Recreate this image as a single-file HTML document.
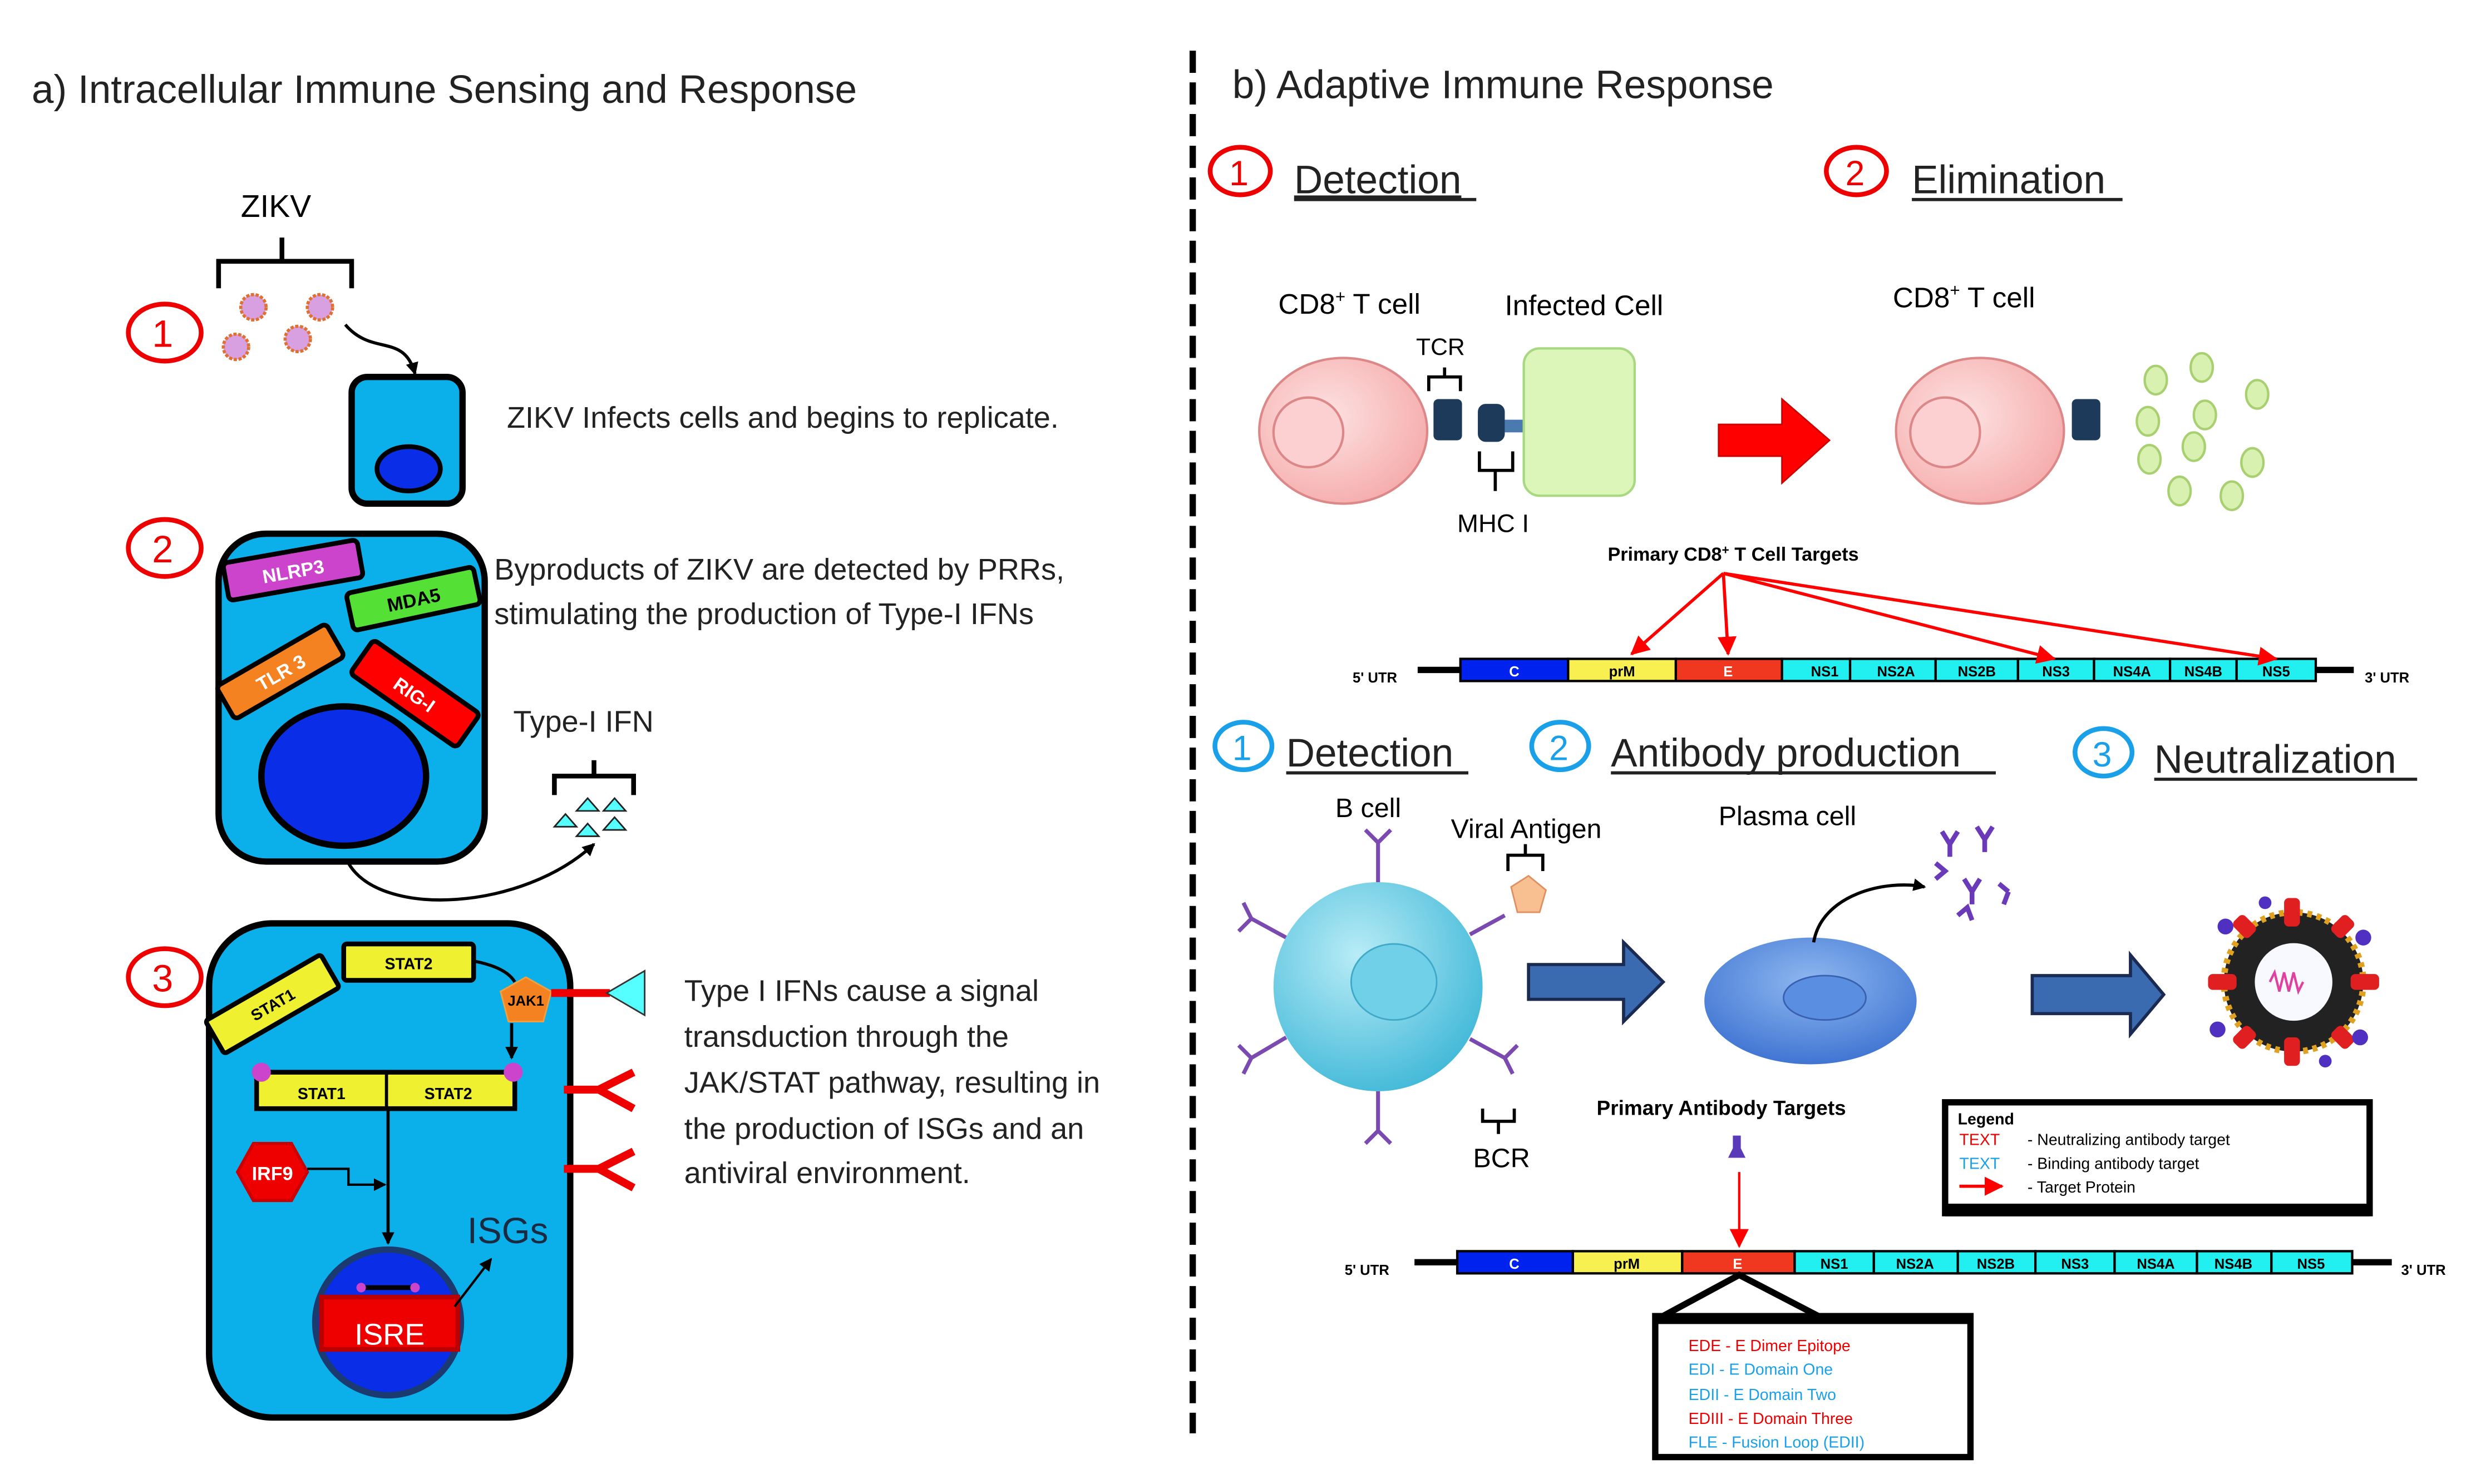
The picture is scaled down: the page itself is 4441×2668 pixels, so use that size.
<!DOCTYPE html>
<html><head><meta charset="utf-8"><style>
html,body{margin:0;padding:0;background:#fff;}
svg{display:block;}
text{font-family:"Liberation Sans",sans-serif;}
</style></head><body>
<svg width="4441" height="2668" viewBox="0 0 1560 937" preserveAspectRatio="none" xmlns="http://www.w3.org/2000/svg">
<defs>
<marker id="ab" markerWidth="8" markerHeight="8" refX="7" refY="4" orient="auto" markerUnits="userSpaceOnUse"><path d="M0,0 L8,4 L0,8 z" fill="#000"/></marker>
<marker id="ar" markerWidth="12" markerHeight="12" refX="11" refY="6" orient="auto" markerUnits="userSpaceOnUse"><path d="M0,0 L12,6 L0,12 z" fill="#f00"/></marker>
<radialGradient id="pink" cx="0.4" cy="0.4" r="0.7"><stop offset="0" stop-color="#fde2e2"/><stop offset="1" stop-color="#f5a8a8"/></radialGradient>
<radialGradient id="bc" cx="0.4" cy="0.35" r="0.7"><stop offset="0" stop-color="#b8ecf6"/><stop offset="1" stop-color="#40b8d8"/></radialGradient>
<radialGradient id="pc" cx="0.5" cy="0.35" r="0.7"><stop offset="0" stop-color="#8fb8f0"/><stop offset="1" stop-color="#3a70d0"/></radialGradient>
</defs>

<!-- Left panel -->
<text x="20" y="65" font-size="25" fill="#222">a) Intracellular Immune Sensing and Response</text>
<line x1="753" y1="32" x2="753" y2="905" stroke="#000" stroke-width="4" stroke-dasharray="14,6"/>

<text x="152" y="137" font-size="20">ZIKV</text>
<path d="M138,182 V165 H178 V150 M178,165 H222 V182" fill="none" stroke="#000" stroke-width="3"/>
<ellipse cx="104" cy="210" rx="23" ry="18" fill="none" stroke="#e00" stroke-width="3"/>
<text x="96" y="219" font-size="24" fill="#e00">1</text>
<g fill="#d8a0e0" stroke="#e07030" stroke-width="2" stroke-dasharray="2,1">
<circle cx="160" cy="194" r="8"/><circle cx="202" cy="194" r="8"/><circle cx="149" cy="219" r="8"/><circle cx="188" cy="214" r="8"/></g>
<path d="M218,205 C235,225 255,210 262,236" fill="none" stroke="#000" stroke-width="2" marker-end="url(#ab)"/>
<rect x="222" y="238" width="70" height="80" rx="10" fill="#0bb0ea" stroke="#000" stroke-width="4"/>
<ellipse cx="258" cy="296" rx="20" ry="14" fill="#0a2ee8" stroke="#000" stroke-width="3"/>
<text x="320" y="270" font-size="19" fill="#222">ZIKV Infects cells and begins to replicate.</text>

<ellipse cx="104" cy="346" rx="23" ry="18" fill="none" stroke="#e00" stroke-width="3"/>
<text x="96" y="355" font-size="24" fill="#e00">2</text>
<rect x="138" y="337" width="168" height="207" rx="30" fill="#0bb0ea" stroke="#000" stroke-width="4"/>
<ellipse cx="217" cy="490" rx="52" ry="44" fill="#0a2ee8" stroke="#000" stroke-width="4"/>
<g transform="translate(185,360) rotate(-10)"><rect x="-43" y="-12" width="86" height="24" rx="3" fill="#cc44cc" stroke="#000" stroke-width="3"/><text x="0" y="5" font-size="12" fill="#fff" text-anchor="middle" font-weight="bold">NLRP3</text></g>
<g transform="translate(261,378) rotate(-12)"><rect x="-41" y="-12" width="82" height="24" rx="3" fill="#55e035" stroke="#000" stroke-width="3"/><text x="0" y="5" font-size="12" text-anchor="middle" font-weight="bold">MDA5</text></g>
<g transform="translate(177,424) rotate(-30)"><rect x="-40" y="-12" width="80" height="24" rx="3" fill="#f58220" stroke="#000" stroke-width="3"/><text x="0" y="5" font-size="12" fill="#fff" text-anchor="middle" font-weight="bold">TLR 3</text></g>
<g transform="translate(262,438) rotate(35)"><rect x="-41" y="-13" width="82" height="26" rx="3" fill="#f00" stroke="#000" stroke-width="3"/><text x="0" y="5" font-size="12" fill="#fff" text-anchor="middle" font-weight="bold">RIG-I</text></g>
<text x="312" y="366" font-size="19" fill="#222">Byproducts of ZIKV are detected by PRRs,</text>
<text x="312" y="394" font-size="19" fill="#222">stimulating the production of Type-I IFNs</text>
<text x="324" y="462" font-size="19" fill="#222">Type-I IFN</text>
<path d="M350,502 V490 H375 V480 M375,490 H400 V502" fill="none" stroke="#000" stroke-width="3"/>
<g fill="#5ff" stroke="#222" stroke-width="1">
<path d="M350,522 l7,-8 l7,8z"/><path d="M364,512 l7,-8 l7,8z"/><path d="M381,512 l7,-8 l7,8z"/><path d="M364,528 l7,-8 l7,8z"/><path d="M381,524 l7,-8 l7,8z"/></g>
<path d="M220,545 C240,580 330,575 375,533" fill="none" stroke="#000" stroke-width="2" marker-end="url(#ab)"/>

<ellipse cx="104" cy="617" rx="23" ry="18" fill="none" stroke="#e00" stroke-width="3"/>
<text x="96" y="626" font-size="24" fill="#e00">3</text>
<rect x="132" y="583" width="228" height="312" rx="40" fill="#0bb0ea" stroke="#000" stroke-width="4"/>
<rect x="217" y="596" width="82" height="23" rx="2" fill="#eef030" stroke="#000" stroke-width="3"/>
<text x="258" y="612" font-size="10" font-weight="bold" text-anchor="middle">STAT2</text>
<g transform="translate(172,634) rotate(-30)"><rect x="-42" y="-12" width="84" height="24" rx="2" fill="#eef030" stroke="#000" stroke-width="3"/><text x="0" y="4" font-size="10" font-weight="bold" text-anchor="middle">STAT1</text></g>
<path d="M300,607 C315,610 322,615 325,620" fill="none" stroke="#000" stroke-width="2"/>
<path d="M332,617 L348,626 L343,645 L321,645 L316,626 z" fill="#f58220" stroke="#f0a040" stroke-width="1"/>
<text x="332" y="635" font-size="9" font-weight="bold" text-anchor="middle">JAK1</text>
<line x1="348" y1="627" x2="385" y2="627" stroke="#e00" stroke-width="5"/>
<path d="M383,627 L407,613 L407,641 z" fill="#5ff" stroke="#333" stroke-width="1"/>
<path d="M356,688 H378 M378,688 L400,677 M378,688 L400,700" fill="none" stroke="#e00" stroke-width="5"/>
<path d="M356,738 H378 M378,738 L400,727 M378,738 L400,750" fill="none" stroke="#e00" stroke-width="5"/>
<line x1="323" y1="646" x2="323" y2="668" stroke="#000" stroke-width="2" marker-end="url(#ab)"/>
<rect x="162" y="677" width="163" height="23" fill="#eef030" stroke="#000" stroke-width="3"/>
<line x1="244" y1="677" x2="244" y2="700" stroke="#000" stroke-width="2"/>
<text x="203" y="694" font-size="10" font-weight="bold" text-anchor="middle">STAT1</text>
<text x="283" y="694" font-size="10" font-weight="bold" text-anchor="middle">STAT2</text>
<circle cx="165" cy="677" r="6" fill="#cc44cc"/><circle cx="324" cy="677" r="6" fill="#cc44cc"/>
<line x1="245" y1="700" x2="245" y2="785" stroke="#000" stroke-width="2" marker-end="url(#ab)"/>
<path d="M150,740 L160,722 L184,722 L194,740 L184,758 L160,758 z" fill="#e00" stroke="#c00" stroke-width="2"/>
<text x="172" y="745" font-size="12" font-weight="bold" fill="#fff" text-anchor="middle">IRF9</text>
<path d="M194,738 H220 V748 H243" fill="none" stroke="#000" stroke-width="1.5" marker-end="url(#ab)"/>
<circle cx="245" cy="835" r="46" fill="#0a2ee8" stroke="#1a3a70" stroke-width="4"/>
<rect x="203" y="819" width="86" height="33" fill="#e00" stroke="#b00" stroke-width="3"/>
<text x="246" y="849" font-size="19" fill="#fff" text-anchor="middle">ISRE</text>
<line x1="228" y1="813" x2="262" y2="813" stroke="#000" stroke-width="3"/><circle cx="228" cy="813" r="3" fill="#cc44cc"/><circle cx="262" cy="813" r="3" fill="#cc44cc"/>
<path d="M287,825 L310,795" fill="none" stroke="#000" stroke-width="1.5" marker-end="url(#ab)"/>
<text x="295" y="785" font-size="23" fill="#1a2a40">ISGs</text>
<g font-size="19" fill="#222">
<text x="432" y="632">Type I IFNs cause a signal</text>
<text x="432" y="661">transduction through the</text>
<text x="432" y="690">JAK/STAT pathway, resulting in</text>
<text x="432" y="719">the production of ISGs and an</text>
<text x="432" y="747">antiviral environment.</text></g>

<!-- Right panel top -->
<text x="778" y="62" font-size="25" fill="#222">b) Adaptive Immune Response</text>
<ellipse cx="783" cy="108" rx="19" ry="15" fill="none" stroke="#e00" stroke-width="3"/>
<text x="776" y="117" font-size="22" fill="#e00">1</text>
<text x="817" y="122" font-size="25" fill="#222" text-decoration="underline">Detection</text>
<line x1="817" y1="126" x2="932" y2="126" stroke="#222" stroke-width="2"/>
<ellipse cx="1172" cy="108" rx="19" ry="15" fill="none" stroke="#e00" stroke-width="3"/>
<text x="1165" y="117" font-size="22" fill="#e00">2</text>
<text x="1207" y="122" font-size="25" fill="#222">Elimination</text>
<line x1="1207" y1="126" x2="1340" y2="126" stroke="#222" stroke-width="2"/>

<text x="807" y="198" font-size="18">CD8<tspan font-size="11" dy="-7">+</tspan><tspan dy="7"> T cell</tspan></text>
<text x="950" y="199" font-size="18">Infected Cell</text>
<text x="894" y="224" font-size="15">TCR</text>
<ellipse cx="848" cy="272" rx="53" ry="46" fill="url(#pink)" stroke="#d88" stroke-width="1.5"/>
<ellipse cx="826" cy="273" rx="22" ry="22" fill="#fcd0d0" stroke="#d88" stroke-width="1.5"/>
<path d="M902,247 V238 H912 V232 M912,238 H922 V247" fill="none" stroke="#000" stroke-width="2"/>
<rect x="905" y="252" width="18" height="26" rx="3" fill="#1e3a5a"/>
<rect x="933" y="255" width="17" height="24" rx="5" fill="#1e3a5a"/>
<rect x="950" y="265" width="12" height="8" fill="#4a7ab0"/>
<path d="M934,285 V297 H944 V310 M944,297 H955 V285" fill="none" stroke="#000" stroke-width="2"/>
<rect x="962" y="220" width="70" height="93" rx="10" fill="#dcf5b8" stroke="#a8d880" stroke-width="1.5"/>
<text x="920" y="336" font-size="16">MHC I</text>
<path d="M1085,268 H1125 V252 L1155,278 L1125,305 V288 H1085 z" fill="#f00" stroke="#c00" stroke-width="1"/>
<text x="1195" y="194" font-size="18">CD8<tspan font-size="11" dy="-7">+</tspan><tspan dy="7"> T cell</tspan></text>
<ellipse cx="1250" cy="272" rx="53" ry="46" fill="url(#pink)" stroke="#d88" stroke-width="1.5"/>
<ellipse cx="1228" cy="273" rx="22" ry="22" fill="#fcd0d0" stroke="#d88" stroke-width="1.5"/>
<rect x="1308" y="252" width="18" height="26" rx="3" fill="#1e3a5a"/>
<g fill="#d8f0b0" stroke="#a8d070" stroke-width="1.5">
<ellipse cx="1361" cy="240" rx="7" ry="9"/><ellipse cx="1390" cy="232" rx="7" ry="9"/><ellipse cx="1425" cy="249" rx="7" ry="9"/>
<ellipse cx="1356" cy="266" rx="7" ry="9"/><ellipse cx="1392" cy="262" rx="7" ry="9"/><ellipse cx="1385" cy="282" rx="7" ry="9"/>
<ellipse cx="1357" cy="290" rx="7" ry="9"/><ellipse cx="1422" cy="292" rx="7" ry="9"/><ellipse cx="1376" cy="310" rx="7" ry="9"/><ellipse cx="1409" cy="313" rx="7" ry="9"/></g>

<text x="1015" y="354" font-size="12" font-weight="bold">Primary CD8<tspan font-size="8" dy="-4">+</tspan><tspan dy="4"> T Cell Targets</tspan></text>
<g stroke="#000" stroke-width="1.5" font-size="9" font-weight="bold" text-anchor="middle">
<line x1="895" y1="423" x2="922" y2="423" stroke-width="4"/><line x1="1462" y1="423" x2="1486" y2="423" stroke-width="4"/>
<rect x="922" y="416" width="68" height="14" fill="#0022ee"/><rect x="990" y="416" width="68" height="14" fill="#f8f050"/><rect x="1058" y="416" width="67" height="14" fill="#f03820"/>
<rect x="1125" y="416" width="43" height="14" fill="#22f0f0"/><rect x="1168" y="416" width="54" height="14" fill="#22f0f0"/><rect x="1222" y="416" width="52" height="14" fill="#22f0f0"/><rect x="1274" y="416" width="48" height="14" fill="#22f0f0"/><rect x="1322" y="416" width="48" height="14" fill="#22f0f0"/><rect x="1370" y="416" width="42" height="14" fill="#22f0f0"/><rect x="1412" y="416" width="50" height="14" fill="#22f0f0"/>
<g stroke="none"><text x="956" y="427" fill="#fff">C</text><text x="1024" y="427">prM</text><text x="1091" y="427" fill="#fff">E</text><text x="1152" y="427">NS1</text><text x="1197" y="427">NS2A</text><text x="1248" y="427">NS2B</text><text x="1298" y="427">NS3</text><text x="1346" y="427">NS4A</text><text x="1391" y="427">NS4B</text><text x="1437" y="427">NS5</text>
<text x="868" y="431">5' UTR</text><text x="1507" y="431">3' UTR</text></g></g>
<g stroke="#f00" stroke-width="2" fill="none">
<line x1="1088" y1="362" x2="1030" y2="413" marker-end="url(#ar)"/><line x1="1088" y1="362" x2="1091" y2="413" marker-end="url(#ar)"/>
<line x1="1088" y1="362" x2="1297" y2="416" marker-end="url(#ar)"/><line x1="1088" y1="362" x2="1437" y2="416" marker-end="url(#ar)"/></g>

<!-- Right panel bottom -->
<ellipse cx="785" cy="471" rx="18" ry="15" fill="none" stroke="#1aa0e8" stroke-width="3"/>
<text x="778" y="480" font-size="22" fill="#1aa0e8">1</text>
<text x="812" y="484" font-size="25" fill="#222">Detection</text><line x1="812" y1="488" x2="927" y2="488" stroke="#222" stroke-width="2"/>
<ellipse cx="985" cy="471" rx="18" ry="15" fill="none" stroke="#1aa0e8" stroke-width="3"/>
<text x="978" y="480" font-size="22" fill="#1aa0e8">2</text>
<text x="1017" y="484" font-size="25" fill="#222">Antibody production</text><line x1="1017" y1="488" x2="1260" y2="488" stroke="#222" stroke-width="2"/>
<ellipse cx="1328" cy="475" rx="18" ry="15" fill="none" stroke="#1aa0e8" stroke-width="3"/>
<text x="1321" y="484" font-size="22" fill="#1aa0e8">3</text>
<text x="1360" y="488" font-size="25" fill="#222">Neutralization</text><line x1="1360" y1="492" x2="1526" y2="492" stroke="#222" stroke-width="2"/>

<text x="843" y="516" font-size="17">B cell</text>
<text x="916" y="529" font-size="17">Viral Antigen</text>
<text x="1085" y="521" font-size="17">Plasma cell</text>
<g stroke="#7a4ab0" stroke-width="2.5" fill="none">
<path d="M870,557 V532 M862,524 L870,532 L878,524"/>
<path d="M870,689 V714 M862,722 L870,714 L878,722"/>
<path d="M812,592 L790,580 M785,570 L790,580 L782,588"/>
<path d="M812,655 L790,668 M782,660 L790,668 L785,678"/>
<path d="M928,590 L950,578"/>
<path d="M928,656 L950,668 M958,660 L950,668 L955,678"/></g>
<circle cx="870" cy="623" r="66" fill="url(#bc)"/>
<ellipse cx="880" cy="620" rx="27" ry="24" fill="#6fd0e8" stroke="#40a8c8" stroke-width="1"/>
<path d="M954,560 L965,553 L976,562 L972,576 L958,576 z" fill="#f8c090" stroke="#e09060"/>
<path d="M952,550 V540 H963 V533 M963,540 H974 V550" fill="none" stroke="#000" stroke-width="2"/>
<path d="M936,700 V708 H946 V716 M946,708 H956 V700" fill="none" stroke="#000" stroke-width="2"/>
<text x="930" y="737" font-size="17">BCR</text>
<path d="M965,609 H1025 V595 L1050,620 L1025,645 V631 H965 z" fill="#3a6ab0" stroke="#1a2a50" stroke-width="2"/>
<ellipse cx="1143" cy="632" rx="67" ry="40" fill="url(#pc)"/>
<ellipse cx="1152" cy="630" rx="26" ry="14" fill="#5a8ee0" stroke="#3a60b0"/>
<path d="M1145,595 C1150,565 1190,555 1215,560" fill="none" stroke="#000" stroke-width="2" marker-end="url(#ab)"/>
<g stroke="#6a3ab8" stroke-width="3" fill="none">
<path d="M1226,525 l5,8 l5,-8 M1231,533 v8"/><path d="M1248,522 l5,8 l5,-8 M1253,530 v8"/><path d="M1222,545 l6,5 l-6,5"/>
<path d="M1240,555 l5,8 l5,-8 M1245,563 v8"/><path d="M1262,558 l6,5 M1268,563 l-3,8"/><path d="M1236,578 l6,-5 l3,8"/></g>
<path d="M1283,616 H1345 V603 L1366,628 L1345,653 V640 H1283 z" fill="#3a6ab0" stroke="#1a2a50" stroke-width="2"/>
<circle cx="1448" cy="620" r="44" fill="#222" stroke="#e0a020" stroke-width="4" stroke-dasharray="3,3"/>
<circle cx="1448" cy="620" r="26" fill="#f8f8ff" stroke="#222" stroke-width="3"/>
<path d="M1433,620 l3,-6 l3,12 l3,-12 l3,12 l3,-12 l3,12 l3,-6" fill="none" stroke="#e040a0" stroke-width="1.5"/>
<g fill="#e02020">
<rect x="1442" y="567" width="10" height="18" rx="3"/><rect x="1442" y="655" width="10" height="18" rx="3"/><rect x="1394" y="615" width="18" height="10" rx="3"/><rect x="1484" y="615" width="18" height="10" rx="3"/>
<rect x="1410" y="580" width="14" height="10" rx="3" transform="rotate(45 1417 585)"/><rect x="1472" y="580" width="14" height="10" rx="3" transform="rotate(-45 1479 585)"/>
<rect x="1410" y="650" width="14" height="10" rx="3" transform="rotate(-45 1417 655)"/><rect x="1472" y="650" width="14" height="10" rx="3" transform="rotate(45 1479 655)"/></g>
<g fill="#5030c0"><circle cx="1405" cy="585" r="5"/><circle cx="1492" cy="592" r="5"/><circle cx="1400" cy="650" r="5"/><circle cx="1490" cy="655" r="5"/><circle cx="1430" cy="570" r="4"/><circle cx="1468" cy="670" r="4"/></g>

<text x="1008" y="704" font-size="13" font-weight="bold">Primary Antibody Targets</text>
<path d="M1094,717 h5 v8 l3,6 h-11 l3,-6 z" fill="#5a3ab8"/>
<line x1="1098" y1="740" x2="1098" y2="787" stroke="#f00" stroke-width="1.5" marker-end="url(#ar)"/>
<rect x="1228" y="696" width="268" height="70" fill="#fff" stroke="#000" stroke-width="4"/>
<rect x="1228" y="760" width="268" height="8" fill="#000"/>
<text x="1236" y="710" font-size="10" font-weight="bold">Legend</text>
<text x="1237" y="723" font-size="10" fill="#e00">TEXT</text><text x="1280" y="723" font-size="10">- Neutralizing antibody target</text>
<text x="1237" y="738" font-size="10" fill="#1aa0e8">TEXT</text><text x="1280" y="738" font-size="10">- Binding antibody target</text>
<line x1="1237" y1="749" x2="1264" y2="749" stroke="#f00" stroke-width="2" marker-end="url(#ar)"/><text x="1280" y="753" font-size="10">- Target Protein</text>

<g stroke="#000" stroke-width="1.5" font-size="9" font-weight="bold" text-anchor="middle">
<line x1="893" y1="797" x2="920" y2="797" stroke-width="4"/><line x1="1485" y1="797" x2="1510" y2="797" stroke-width="4"/>
<rect x="920" y="790" width="73" height="14" fill="#0022ee"/><rect x="993" y="790" width="69" height="14" fill="#f8f050"/><rect x="1062" y="790" width="71" height="14" fill="#f03820"/>
<rect x="1133" y="790" width="50" height="14" fill="#22f0f0"/><rect x="1183" y="790" width="53" height="14" fill="#22f0f0"/><rect x="1236" y="790" width="49" height="14" fill="#22f0f0"/><rect x="1285" y="790" width="50" height="14" fill="#22f0f0"/><rect x="1335" y="790" width="52" height="14" fill="#22f0f0"/><rect x="1387" y="790" width="47" height="14" fill="#22f0f0"/><rect x="1434" y="790" width="51" height="14" fill="#22f0f0"/>
<g stroke="none"><text x="956" y="801" fill="#fff">C</text><text x="1027" y="801">prM</text><text x="1097" y="801" fill="#fff">E</text><text x="1158" y="801">NS1</text><text x="1209" y="801">NS2A</text><text x="1260" y="801">NS2B</text><text x="1310" y="801">NS3</text><text x="1361" y="801">NS4A</text><text x="1410" y="801">NS4B</text><text x="1459" y="801">NS5</text>
<text x="863" y="805">5' UTR</text><text x="1530" y="805">3' UTR</text></g></g>
<path d="M1048,832 L1098,805 L1150,832" fill="none" stroke="#000" stroke-width="4"/>
<rect x="1045" y="831" width="199" height="89" fill="#fff" stroke="#000" stroke-width="4"/>
<rect x="1045" y="829" width="199" height="7" fill="#000"/>
<g font-size="10"><text x="1066" y="853" fill="#e00">EDE  - E Dimer Epitope</text>
<text x="1066" y="868" fill="#1aa0e8">EDI   - E Domain One</text>
<text x="1066" y="884" fill="#1aa0e8">EDII  - E Domain Two</text>
<text x="1066" y="899" fill="#e00">EDIII - E Domain Three</text>
<text x="1066" y="914" fill="#1aa0e8">FLE   -  Fusion Loop (EDII)</text></g>
</svg>
</body></html>
